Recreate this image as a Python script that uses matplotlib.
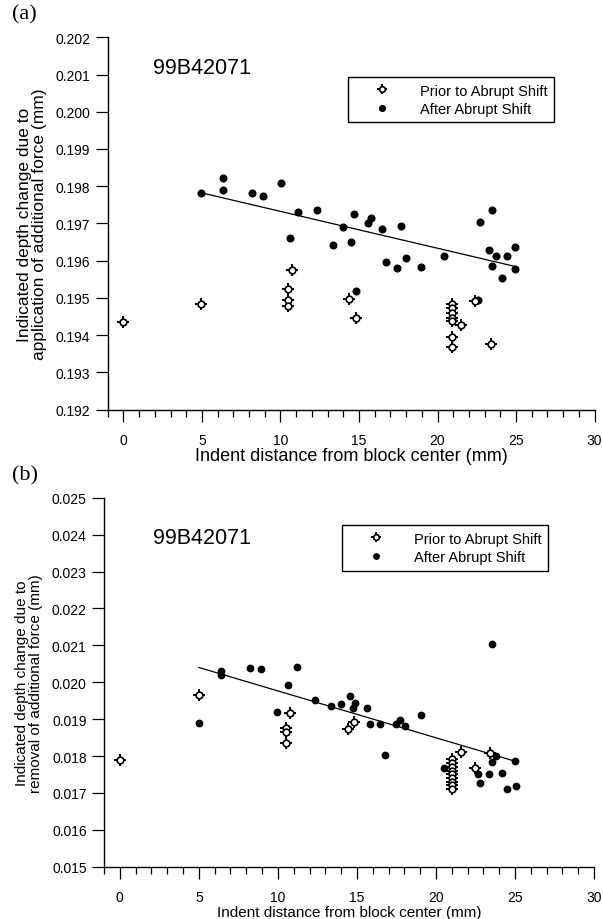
import matplotlib
matplotlib.use('Agg')
import matplotlib.pyplot as plt
from matplotlib.legend_handler import HandlerTuple
from matplotlib.ticker import MultipleLocator, FormatStrFormatter

plt.rcParams['font.family'] = ['Liberation Sans', 'DejaVu Sans']

# ---- panel (a): depth change due to application of additional force ----
a_prior_x = [0.0, 4.96, 10.72, 10.47, 10.47, 10.47, 14.35, 14.81,
             20.95, 20.95, 20.95, 20.95, 20.95, 20.95, 20.95, 21.5, 22.37, 23.38]
a_prior_y = [0.19435, 0.19484, 0.19575, 0.19524, 0.19495, 0.19479, 0.19496, 0.19446,
             0.19484, 0.19472, 0.19459, 0.19447, 0.19439, 0.19394, 0.19369, 0.19428, 0.19491, 0.19376]
a_after_x = [4.96, 6.37, 6.37, 8.21, 8.91, 10.03, 11.14, 12.32, 13.95, 10.59, 13.35,
             14.71, 14.49, 15.55, 15.74, 16.44, 17.66, 16.71, 17.39, 17.96, 18.97,
             20.44, 14.81, 22.58, 22.72, 23.46, 23.25, 23.7, 23.46, 24.43, 24.92,
             24.96, 24.08]
a_after_y = [0.19782, 0.19821, 0.19789, 0.19782, 0.19775, 0.19808, 0.19732, 0.19736,
             0.19691, 0.19661, 0.19642, 0.19725, 0.19650, 0.19701, 0.19716, 0.19686,
             0.19692, 0.19597, 0.19581, 0.19608, 0.19584, 0.19612, 0.19519, 0.19495,
             0.19705, 0.19737, 0.19628, 0.19612, 0.19587, 0.19612, 0.19638, 0.19577,
             0.19554]
a_fit_x = [5.0, 25.0]
a_fit_y = [0.19782, 0.19584]

# ---- panel (b): depth change due to removal of additional force ----
b_prior_x = [0.0, 5.0, 10.76, 10.49, 10.49, 10.49, 14.46, 14.84,
             20.99, 20.99, 20.99, 20.99, 20.99, 20.99, 20.99, 20.99, 20.99,
             21.56, 22.47, 23.42]
b_prior_y = [0.01790, 0.01966, 0.01916, 0.01875, 0.01864, 0.01834, 0.01873, 0.01893,
             0.01792, 0.01780, 0.01770, 0.01760, 0.01750, 0.01740, 0.01730, 0.01722, 0.01712,
             0.01810, 0.01767, 0.01807]
b_after_x = [5.0, 6.39, 6.39, 8.23, 8.92, 11.18, 10.61, 9.92, 12.36, 13.39, 13.99,
             14.56, 14.87, 14.76, 15.61, 15.8, 16.48, 16.77, 17.45, 17.7, 18.04,
             19.05, 23.53, 20.5, 22.68, 22.8, 23.35, 23.8, 23.53, 24.16, 25.0,
             24.5, 25.06]
b_after_y = [0.01889, 0.02031, 0.02020, 0.02038, 0.02035, 0.02042, 0.01992, 0.01920,
             0.01952, 0.01935, 0.01942, 0.01962, 0.01944, 0.01931, 0.01930, 0.01886,
             0.01886, 0.01804, 0.01886, 0.01897, 0.01882, 0.01911, 0.02104, 0.01767,
             0.01751, 0.01726, 0.01751, 0.01801, 0.01785, 0.01754, 0.01787, 0.01711,
             0.01719]
b_fit_x = [5.0, 25.0]
b_fit_y = [0.02040, 0.01786]

sample = '99B42071'
xlab = 'Indent distance from block center (mm)'
labels = ['Prior to Abrupt Shift', 'After Abrupt Shift']


def prior_marker(ax, x, y, cross=9.0, circ=4.8):
    # open circle with short crosshair spikes
    h1, = ax.plot(x, y, ls='none', marker='+', ms=cross, mew=1.4, color='black', zorder=3)
    h2, = ax.plot(x, y, ls='none', marker='o', ms=circ, mfc='white', mec='black',
                  mew=1.2, zorder=4)
    return (h1, h2)


def style_axes(ax, ylo, yhi):
    ax.set_xlim(-1, 30)
    ax.set_ylim(ylo, yhi)
    ax.spines['top'].set_visible(False)
    ax.spines['right'].set_visible(False)
    for s in ('left', 'bottom'):
        ax.spines[s].set_linewidth(1.0)
    ax.xaxis.set_major_locator(MultipleLocator(5))
    ax.xaxis.set_minor_locator(MultipleLocator(1))
    ax.yaxis.set_major_locator(MultipleLocator(0.001))
    ax.yaxis.set_major_formatter(FormatStrFormatter('%.3f'))
    ax.tick_params(axis='both', which='major', direction='out', length=8.5, width=0.9,
                   labelsize=10, pad=4)
    ax.tick_params(axis='x', which='major', pad=8)
    ax.tick_params(axis='x', which='minor', direction='out', length=4.8, width=0.9)


def add_legend(ax, handles, anchor):
    ax.legend(handles, labels, handler_map={tuple: HandlerTuple(ndivide=1)},
              loc='upper left', bbox_to_anchor=anchor, fontsize=10.5,
              frameon=True, fancybox=False, edgecolor='black', framealpha=1,
              borderpad=0.45, handletextpad=0.7, labelspacing=0.3, handlelength=3.8,
              borderaxespad=0, markerscale=0.85)


fig = plt.figure(figsize=(6.03, 9.2), dpi=100)

# panel (a)
ax1 = fig.add_axes([0.1786, 0.5536, 0.8075, 0.4048])
hp = prior_marker(ax1, a_prior_x, a_prior_y)
ha, = ax1.plot(a_after_x, a_after_y, ls='none', marker='o', ms=4.8, color='black', zorder=3)
ax1.plot(a_fit_x, a_fit_y, color='black', lw=0.9, zorder=2)
style_axes(ax1, 0.192, 0.202)
ax1.set_xlabel(xlab, fontsize=13, labelpad=0)
ax1.set_ylabel('Indicated depth change due to\napplication of additional force (mm)',
               fontsize=12.5, labelpad=6, linespacing=1.0)
ax1.text(0.093, 0.9176, sample, transform=ax1.transAxes, fontsize=15.5,
         ha='left', va='center')
add_legend(ax1, [hp, ha], (0.493, 0.8934))

# panel (b)
ax2 = fig.add_axes([0.1725, 0.0568, 0.8126, 0.4011])
hp = prior_marker(ax2, b_prior_x, b_prior_y)
ha, = ax2.plot(b_after_x, b_after_y, ls='none', marker='o', ms=4.6, color='black', zorder=3)
ax2.plot(b_fit_x, b_fit_y, color='black', lw=0.9, zorder=2)
style_axes(ax2, 0.015, 0.025)
ax2.set_xlabel(xlab, fontsize=11, labelpad=1)
ax2.set_ylabel('Indicated depth change due to\nremoval of additional force (mm)',
               fontsize=11, labelpad=6, linespacing=1.0)
ax2.text(0.1, 0.8935, sample, transform=ax2.transAxes, fontsize=15.5,
         ha='left', va='center')
add_legend(ax2, [hp, ha], (0.485, 0.926))

fig.text(0.02, 1 - 15 / 920, '(a)', family=['Liberation Serif'], fontsize=16,
         ha='left', va='center')
fig.text(0.02, 1 - 476 / 920, '(b)', family=['Liberation Serif'], fontsize=16,
         ha='left', va='center')

fig.savefig('out.png', dpi=100)
